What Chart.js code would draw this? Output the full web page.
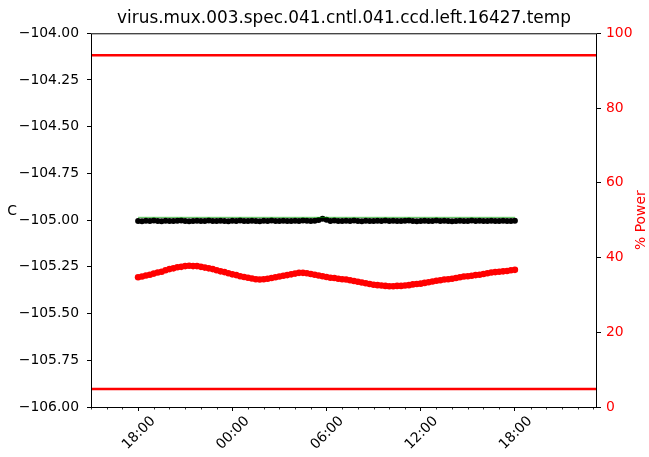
<!DOCTYPE html>
<html>
<head>
<meta charset="utf-8">
<script src="https://cdn.jsdelivr.net/npm/chart.js@4"></script>
<style>
  html, body { margin: 0; padding: 0; background: #fff; }
  #wrap { width: 649px; height: 457px; }
</style>
</head>
<body>
<div id="wrap"><canvas id="tempChart" width="649" height="457"></canvas></div>
<script>
// hours after 18:00 of the first day, one sample every 15 minutes
const xTicks = [0, 6, 12, 18, 24];
const tempTicks = [-106, -105.75, -105.5, -105.25, -105, -104.75, -104.5, -104.25, -104];
const powerTicks = [0, 20, 40, 60, 80, 100];
const powerLimits = [94.1, 4.8];
const setpoint = [-104.985, -104.985];

const temp = [
  -105.004,-105.006,-105.003,-105.005,-105.002,-105.004,-105.006,-105.003,-105.004,-105.005,
  -105.003,-105.002,-105.004,-105.006,-105.004,-105.003,-105.005,-105.004,-105.002,-105.004,
  -105.005,-105.003,-105.004,-105.006,-105.003,-105.004,-105.002,-105.004,-105.005,-105.003,
  -105.004,-105.006,-105.003,-105.004,-105.002,-105.005,-105.004,-105.003,-105.004,-105.005,
  -105.003,-105.004,-105.002,-105.003,-105.004,-105.003,-104.999,-104.993,-104.998,-105.004,
  -105.002,-105.004,-105.005,-105.003,-105.004,-105.002,-105.004,-105.006,-105.003,-105.004,
  -105.005,-105.003,-105.004,-105.002,-105.004,-105.003,-105.005,-105.004,-105.003,-105.002,
  -105.004,-105.006,-105.004,-105.003,-105.004,-105.005,-105.002,-105.004,-105.003,-105.004,
  -105.006,-105.004,-105.003,-105.005,-105.004,-105.002,-105.004,-105.003,-105.005,-105.004,
  -105.003,-105.004,-105.005,-105.003,-105.004,-105.004,-105.003
];

const power = [
  34.7,34.9,35.2,35.4,35.7,36.0,36.2,36.6,36.9,37.1,
  37.4,37.5,37.7,37.8,37.7,37.7,37.5,37.3,37.1,36.9,
  36.6,36.3,36.1,35.8,35.5,35.3,35.0,34.8,34.6,34.4,
  34.2,34.1,34.2,34.3,34.5,34.7,34.9,35.1,35.3,35.5,
  35.7,35.9,35.9,35.8,35.6,35.4,35.2,35.0,34.8,34.6,
  34.5,34.3,34.2,34.1,33.9,33.7,33.5,33.3,33.1,32.9,
  32.7,32.6,32.5,32.4,32.3,32.3,32.4,32.4,32.5,32.6,
  32.8,32.9,33.0,33.2,33.4,33.6,33.8,33.9,34.1,34.2,
  34.3,34.5,34.7,34.9,35.0,35.1,35.3,35.4,35.6,35.8,
  36.0,36.1,36.2,36.3,36.4,36.6,36.7
];

const hours = power.map((_, i) => i * 0.25);
const xMin = -3, xMax = 29.23;

const FONT = "'DejaVu Sans', sans-serif";

const frame = {
  id: 'frame',
  afterDraw(chart) {
    const { ctx, chartArea: a, scales } = chart;
    ctx.save();
    ctx.strokeStyle = '#000';
    ctx.lineWidth = 1;
    ctx.strokeRect(a.left + 0.5, a.top + 0.5, a.right - a.left - 1, a.bottom - a.top);
    // minor hour ticks
    const x = scales.x;
    ctx.beginPath();
    for (let h = -3; h <= xMax; h++) {
      if (h % 6 === 0) continue;
      const px = Math.round(x.getPixelForValue(h)) + 0.5;
      ctx.moveTo(px, a.bottom);
      ctx.lineTo(px, a.bottom + 2.5);
    }
    ctx.lineWidth = 0.8;
    ctx.stroke();
    // axis labels the matplotlib way
    ctx.font = '13.9px ' + FONT;
    ctx.fillStyle = '#000';
    ctx.textAlign = 'center';
    ctx.textBaseline = 'middle';
    ctx.fillText('C', 12, 211);
    ctx.translate(641, (a.top + a.bottom) / 2);
    ctx.rotate(-Math.PI / 2);
    ctx.fillStyle = '#ff0000';
    ctx.fillText('% Power', 0, 0);
    ctx.restore();
  }
};

const pad2 = n => String(n).padStart(2, '0');

new Chart(document.getElementById('tempChart'), {
  type: 'scatter',
  data: {
    datasets: [
      {
        data: [{ x: xMin, y: powerLimits[0] }, { x: xMax, y: powerLimits[0] }],
        yAxisID: 'y1', showLine: true, borderColor: '#ff0000', borderWidth: 2.5,
        pointRadius: 0
      },
      {
        data: [{ x: xMin, y: powerLimits[1] }, { x: xMax, y: powerLimits[1] }],
        yAxisID: 'y1', showLine: true, borderColor: '#ff0000', borderWidth: 2.5,
        pointRadius: 0
      },
      {
        data: [{ x: hours[0], y: setpoint[0] }, { x: hours[hours.length - 1], y: setpoint[1] }],
        yAxisID: 'y', showLine: true, borderColor: 'rgba(0,160,0,0.7)', borderWidth: 1,
        pointRadius: 0
      },
      {
        data: hours.map((h, i) => ({ x: h, y: temp[i] })),
        yAxisID: 'y', backgroundColor: '#000', borderWidth: 0, pointRadius: 3
      },
      {
        data: hours.map((h, i) => ({ x: h, y: power[i] })),
        yAxisID: 'y1', backgroundColor: '#ff0000', borderWidth: 0, pointRadius: 3.3
      }
    ]
  },
  options: {
    responsive: false,
    animation: false,
    events: [],
    layout: { padding: 0 },
    scales: {
      x: {
        type: 'linear', min: xMin, max: xMax,
        afterBuildTicks: s => { s.ticks = xTicks.map(v => ({ value: v })); },
        afterFit: s => { s.height = 50; },
        grid: { drawOnChartArea: false, color: '#000', tickLength: 4 },
        border: { display: false },
        ticks: {
          color: '#000', font: { family: FONT, size: 13.9 },
          minRotation: 45, maxRotation: 45, padding: 2, labelOffset: 15,
          callback: v => pad2((18 + v) % 24) + ':00'
        }
      },
      y: {
        position: 'left', min: -106, max: -104,
        afterBuildTicks: s => { s.ticks = tempTicks.map(v => ({ value: v })); },
        afterFit: s => { s.width = 91; },
        grid: { drawOnChartArea: false, color: '#000', tickLength: 4 },
        border: { display: false },
        ticks: {
          color: '#000', font: { family: FONT, size: 13.9 }, padding: 8,
          callback: v => v.toFixed(2).replace('-', '\u2212')
        }
      },
      y1: {
        position: 'right', min: 0, max: 100,
        afterBuildTicks: s => { s.ticks = powerTicks.map(v => ({ value: v })); },
        afterFit: s => { s.width = 52; },
        grid: { drawOnChartArea: false, color: '#000', tickLength: 4 },
        border: { display: false },
        ticks: { color: '#ff0000', font: { family: FONT, size: 13.9 }, padding: 5 }
      }
    },
    plugins: {
      legend: { display: false },
      tooltip: { enabled: false },
      title: {
        display: true, fullSize: false,
        text: 'virus.mux.003.spec.041.cntl.041.ccd.left.16427.temp',
        color: '#000', font: { family: FONT, size: 16.9, weight: 'normal' },
        padding: { top: 8, bottom: 5 }
      }
    }
  },
  plugins: [frame]
});
</script>
</body>
</html>
